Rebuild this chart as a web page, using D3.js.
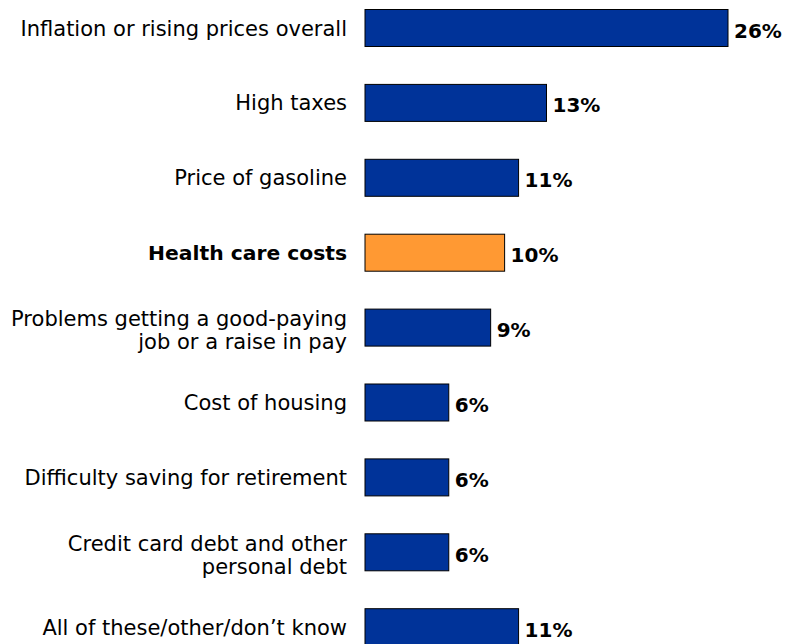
<!DOCTYPE html>
<html>
<head>
<meta charset="utf-8">
<script src="https://cdn.jsdelivr.net/npm/d3@7"></script>
<style>
  html, body { margin: 0; padding: 0; background: #fff; }
  svg { display: block; }
  text { font-family: "DejaVu Sans", Verdana, sans-serif; fill: #000; }
</style>
</head>
<body>
<svg id="chart" width="788" height="644"></svg>
<script>
// Share of respondents naming each item as their top financial worry (%)
const categories = [
  "Inflation or rising prices overall",
  "High taxes",
  "Price of gasoline",
  "Health care costs",
  "Problems getting a good-paying|job or a raise in pay",
  "Cost of housing",
  "Difficulty saving for retirement",
  "Credit card debt and other|personal debt",
  "All of these/other/don\u2019t know"
];
const values = [26, 13, 11, 10, 9, 6, 6, 6, 11];
const highlighted = ["Health care costs"];

const svg = d3.select("#chart");

const x = d3.scaleLinear().domain([0, 26]).range([365, 728]);
const y = d3.scaleBand()
  .domain(categories)
  .range([9, 645.2])
  .paddingInner(0.506)
  .paddingOuter(0);

const rows = categories.map((c, i) => ({ cat: c, value: values[i], hi: highlighted.includes(c) }));

const g = svg.selectAll("g.row").data(rows).join("g").attr("class", "row");

g.append("rect")
  .attr("x", x(0))
  .attr("y", d => y(d.cat) + 0.5)
  .attr("width", d => x(d.value) - x(0))
  .attr("height", y.bandwidth())
  .attr("fill", d => d.hi ? "#FF9933" : "#003399")
  .attr("stroke", "#000")
  .attr("stroke-width", 1);

// value labels, to the right of each bar
g.append("text")
  .attr("x", d => x(d.value) + 6)
  .attr("y", d => y(d.cat) + y.bandwidth() / 2 + 10)
  .attr("font-size", 20)
  .attr("font-weight", "bold")
  .text(d => d.value + "%");

// category labels, right-aligned against the bars
const lab = g.append("text")
  .attr("text-anchor", "end")
  .attr("font-size", d => d.hi ? 20.3 : 21)
  .attr("font-weight", d => d.hi ? "bold" : "normal");

lab.each(function(d) {
  const lines = d.cat.split("|");
  const cy = y(d.cat) + y.bandwidth() / 2;
  const sel = d3.select(this);
  if (lines.length === 1) {
    sel.append("tspan").attr("x", 347).attr("y", cy + 8).text(lines[0]);
  } else {
    lines.forEach((t, i) => {
      sel.append("tspan").attr("x", 347).attr("y", cy - 1 + i * 23).text(t);
    });
  }
});
</script>
</body>
</html>
